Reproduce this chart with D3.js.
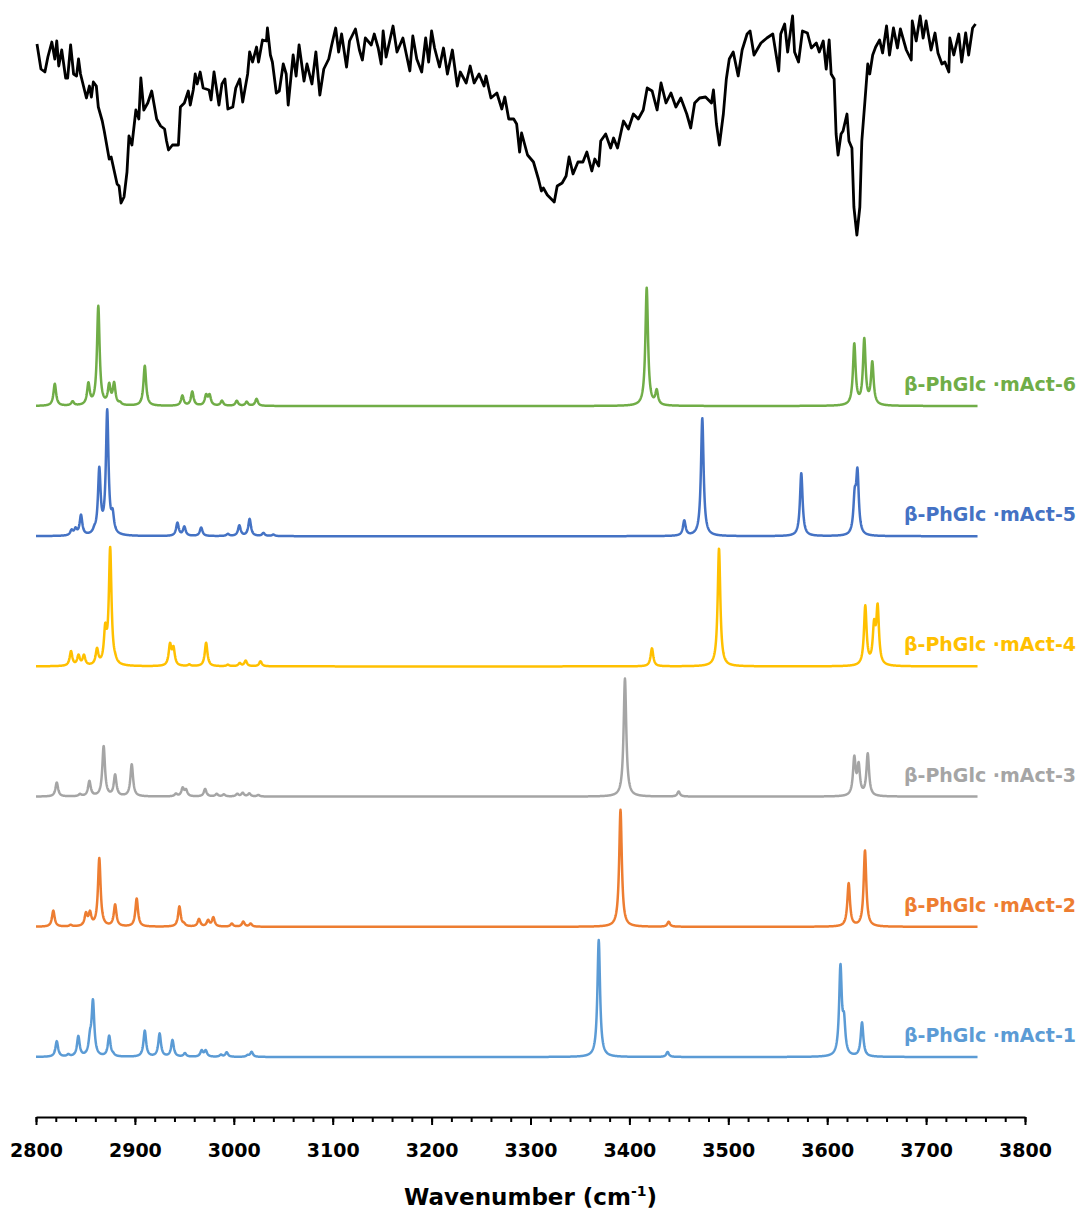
<!DOCTYPE html>
<html>
<head>
<meta charset="utf-8">
<script src="https://cdn.jsdelivr.net/npm/d3@7"></script>
<style>
  html, body { margin: 0; padding: 0; background: #fff; }
  svg { display: block; }
  text { font-family: "DejaVu Sans", "Liberation Sans", sans-serif; font-weight: bold; }
</style>
</head>
<body>
<svg id="chart" width="1081" height="1216"></svg>
<script>
// Measured IR spectrum: [wavenumber (cm-1), transmittance (%)]
const experimental = [
  [2801,82.4],[2805,72.4],[2809,71.2],[2812,77.2],[2816,83.2],[2819,76.4],[2821,83.6],[2823,73.6],
  [2826,80],[2830,68.8],[2832,68.8],[2835,82],[2838,70.4],[2841,69.6],[2843,76.4],[2845,70.4],
  [2851,60.8],[2854,65.6],[2856,61.2],[2858,67.2],[2861,65.6],[2863,57.2],[2867,51.6],[2869,47.6],
  [2874,36.4],[2876,37.2],[2882,26.4],[2884,25.6],[2886,18.8],[2889,21.2],[2892,31.2],[2894,45.6],
  [2897,42],[2901,56],[2904,52.4],[2906,68.8],[2909,56],[2913,58.8],[2917,63.6],[2922,52.4],
  [2926,49.6],[2930,48.4],[2932,43.6],[2934,40],[2938,42],[2944,42],[2946,57.2],[2950,58.8],
  [2954,63.6],[2956,58],[2959,64],[2961,70.4],[2963,66.4],[2966,71.2],[2969,64.8],[2975,64],
  [2977,60],[2980,71.2],[2985,58],[2988,66.4],[2991,68.4],[2994,56.4],[2999,57.2],[3002,64.8],
  [3006,68.4],[3009,59.2],[3014,70.4],[3016,79.2],[3019,75.2],[3023,81.2],[3025,75.2],[3029,84],
  [3033,83.6],[3034,88.8],[3037,78],[3039,75.2],[3043,62.8],[3046,63.6],[3050,74.4],[3053,70.4],
  [3055,58],[3060,78],[3063,69.6],[3066,82],[3071,67.6],[3074,74.4],[3079,66.4],[3083,79.2],
  [3087,62],[3091,72.4],[3096,76.4],[3099,82],[3103,88.8],[3106,79.2],[3109,86.4],[3114,73.2],
  [3117,83.6],[3123,88.4],[3127,80],[3130,76],[3133,84.8],[3139,82],[3142,86.4],[3146,80.8],
  [3149,74.4],[3151,87.6],[3154,77.2],[3161,89.6],[3165,79.2],[3171,84.8],[3178,71.6],[3181,85.6],
  [3185,76.4],[3190,71.2],[3194,84.8],[3197,75.2],[3200,87.6],[3203,80.8],[3208,73.2],[3212,80.8],
  [3216,70.4],[3221,80],[3226,65.6],[3229,71.2],[3235,66.8],[3239,73.6],[3243,66.8],[3248,70.4],
  [3253,65.6],[3255,69.6],[3260,60.8],[3266,62.8],[3271,56.4],[3274,61.2],[3278,52.4],[3283,52.4],
  [3286,50.4],[3289,39.2],[3291,46.8],[3297,38],[3303,35.2],[3308,28.4],[3311,23.6],[3313,24.8],
  [3317,22],[3324,19.2],[3327,25.6],[3332,26.8],[3336,29.6],[3339,37.2],[3343,30.4],[3348,35.2],
  [3353,35.2],[3357,39.2],[3362,31.6],[3365,36.4],[3369,33.6],[3371,43.6],[3376,46.4],[3381,40.8],
  [3384,44.8],[3388,40.8],[3394,51.6],[3399,48.4],[3404,54.4],[3409,52.4],[3414,56],[3418,64.8],
  [3423,63.6],[3428,56],[3432,66.8],[3437,58.8],[3442,62.8],[3447,57.2],[3452,60.8],[3458,54.4],
  [3462,48.8],[3466,58.8],[3471,60.8],[3477,61.2],[3483,58.8],[3485,64],[3488,50.4],[3491,42],
  [3495,54.4],[3498,68.4],[3501,76.4],[3505,79.2],[3510,69.6],[3514,80],[3519,86.4],[3522,87.6],
  [3526,78],[3533,82.8],[3539,84.8],[3545,86.4],[3551,71.6],[3553,86.4],[3557,90.4],[3560,79.2],
  [3565,93.6],[3567,79.2],[3571,75.2],[3575,87.6],[3580,86.8],[3584,80.8],[3589,82.8],[3592,79.2],
  [3596,83.6],[3599,72.4],[3602,84],[3604,70.4],[3607,68.4],[3609,46.4],[3611,38],[3614,46.4],
  [3616,47.6],[3620,54.4],[3622,43.6],[3625,40.8],[3627,17.2],[3630,6],[3633,17.2],[3635,43.6],
  [3638,58.8],[3641,74.4],[3643,70.4],[3646,78],[3649,81.2],[3653,84],[3656,78.8],[3660,89.6],
  [3663,78],[3667,88.8],[3671,80.8],[3674,88.4],[3680,80],[3685,76],[3686,91.6],[3690,83.6],
  [3694,93.6],[3697,84.8],[3700,91.6],[3705,80],[3709,86.8],[3712,78.8],[3716,74.4],[3719,75.2],
  [3723,71.2],[3724,84.8],[3728,78],[3733,86.4],[3736,75.2],[3740,86.8],[3743,78],[3747,88.8],
  [3750,90.4]
];

// Calculated vibrational bands of each conformer: [wavenumber (cm-1), relative intensity]
const mAct6 = [
  [2819,22],[2837,4],[2853,21],[2863,99],[2874,19],[2879,21],[2885,2],[2910,40],[2948,10],
  [2958,14],[2972,10],[2975.5,10],[2988,5],[3003,5],[3013,4],[3023,7],
  [3417.5,118],[3427.6,14],[3627.4,61],[3637.5,65],[3645.6,42]
];
const mAct5 = [
  [2836,5],[2840,6],[2845.5,20],[2859,3],[2864,64],[2872,123],[2877.5,17],[2943,13],[2950,9],
  [2967,8.5],[2994,2],[3005.6,10.5],[3016,17],[3030,3],[3040,1.5],
  [3455.5,15],[3473.7,118],[3573.8,63],[3627.8,34],[3630.6,60]
];
const mAct4 = [
  [2835.4,14.5],[2843,10],[2848.5,10],[2861.7,15.5],[2870,32],[2875,116],[2880,2],[2935.5,20.5],
  [2939,16.7],[2955,1.5],[2972,23.5],[2994,1.5],[3006,3],[3012,5.5],[3027,5],
  [3422.8,18],[3490.6,118],[3638.5,59],[3647.4,36],[3651,56]
];
const mAct3 = [
  [2821,14],[2844.5,2],[2854,15],[2868.4,50],[2880,21],[2896.8,32],[2941.5,2.5],[2948.3,8],
  [2951.7,6],[2971,7.5],[2982.7,2.5],[2990,2],[3003.5,2.5],[3009,3.5],[3015.7,3],[3024.8,1.5],
  [3395.5,118],[3449.8,5],[3627.4,37],[3631.8,29],[3641,42]
];
const mAct2 = [
  [2817.5,16],[2835,1.5],[2850.5,12],[2854.6,12.5],[2864,68],[2880,21.5],[2901.8,28],[2945,20],
  [2949.7,2],[2964.8,7.5],[2974,6],[2979.3,9],[2998,3],[3009.6,5],[3017,3],
  [3391,117],[3439.7,5],[3621.7,43],[3638.2,76]
];
const mAct1 = [
  [2821,15.5],[2832.7,2],[2842.8,20],[2854.6,15],[2857.6,54],[2874,20.5],[2878,1.5],[2910,26],
  [2925,23],[2938,16.5],[2950.6,3.5],[2967.5,6],[2971.6,6],[2987,2],[2992.8,4.5],[3014,1.5],
  [3018,5],[3369,117],[3438.6,5],[3613.4,88],[3617,30],[3635.2,34]
];

// Series labels, top to bottom
const seriesNames = [
  "β-PhGlc ·mAct-6", "β-PhGlc ·mAct-5", "β-PhGlc ·mAct-4",
  "β-PhGlc ·mAct-3", "β-PhGlc ·mAct-2", "β-PhGlc ·mAct-1"
];
const seriesBands = [mAct6, mAct5, mAct4, mAct3, mAct2, mAct1];
const seriesColors = ["#70AD47", "#4472C4", "#FFC000", "#A5A5A5", "#ED7D31", "#5B9BD5"];

// Axis ticks
const majorTicks = [2800, 2900, 3000, 3100, 3200, 3300, 3400, 3500, 3600, 3700, 3800];
const minorTicks = d3.range(2800, 3801, 20);

// Simulated range and band shape (Lorentzian half width at half maximum, cm-1)
const simRange = [2800, 3752];
const simStep = 0.25;
const hwhm = 1.6;

const svg = d3.select("#chart");

const x = d3.scaleLinear().domain([2800, 3800]).range([36, 1025]);
const yExp = d3.scaleLinear().domain([0, 100]).range([250, 0]);
const baseline = d3.scalePoint().domain(seriesNames).range([406, 1057]);
const yInt = d3.scaleLinear().domain([0, 125]).range([0, 125]);

// Broadened stick spectrum
function broaden(bands) {
  const pts = [];
  for (let w = simRange[0]; w <= simRange[1] + 1e-9; w += simStep) {
    let s = 0;
    for (const [c, a] of bands) {
      const d = (w - c) / hwhm;
      s += a / (1 + d * d);
    }
    pts.push([w, s]);
  }
  return pts;
}

// Measured trace
svg.append("path")
  .datum(experimental)
  .attr("fill", "none")
  .attr("stroke", "#000")
  .attr("stroke-width", 2.8)
  .attr("stroke-linejoin", "round")
  .attr("d", d3.line().x(d => x(d[0])).y(d => yExp(d[1])));

// Calculated traces with labels
seriesNames.forEach((name, i) => {
  const b = baseline(name);
  const line = d3.line().x(d => x(d[0])).y(d => b - yInt(d[1]));
  svg.append("path")
    .datum(broaden(seriesBands[i]))
    .attr("fill", "none")
    .attr("stroke", seriesColors[i])
    .attr("stroke-width", 2.5)
    .attr("stroke-linejoin", "round")
    .attr("d", line);
  svg.append("text")
    .attr("x", 1076)
    .attr("y", b - 15)
    .attr("text-anchor", "end")
    .attr("font-size", 19)
    .attr("fill", seriesColors[i])
    .text(name);
});

// Wavenumber axis
const axisY = 1117;
const minorAxis = d3.axisBottom(x).tickValues(minorTicks).tickSize(5).tickSizeOuter(0).tickFormat("");
const majorAxis = d3.axisBottom(x).tickValues(majorTicks).tickSize(8).tickSizeOuter(0).tickFormat(d3.format("d"));

const gMinor = svg.append("g").attr("transform", `translate(0,${axisY})`).call(minorAxis);
gMinor.select(".domain").attr("stroke", "#000").attr("stroke-width", 2);
gMinor.selectAll(".tick line").attr("stroke", "#000").attr("stroke-width", 2);

const gMajor = svg.append("g").attr("transform", `translate(0,${axisY})`).call(majorAxis);
gMajor.select(".domain").remove();
gMajor.selectAll(".tick line").attr("stroke", "#000").attr("stroke-width", 2);
gMajor.selectAll(".tick text")
  .attr("y", 40).attr("dy", null)
  .attr("font-size", 19)
  .attr("font-family", "'DejaVu Sans', sans-serif")
  .attr("font-weight", "bold")
  .attr("fill", "#000");

// Axis title
const title = svg.append("text")
  .attr("x", (x.range()[0] + x.range()[1]) / 2)
  .attr("y", 1205)
  .attr("text-anchor", "middle")
  .attr("font-size", 23)
  .attr("fill", "#000");
title.append("tspan").text("Wavenumber (cm");
title.append("tspan").attr("font-size", 14).attr("dy", -9).text("-1");
title.append("tspan").attr("dy", 9).text(")");
</script>
</body>
</html>
